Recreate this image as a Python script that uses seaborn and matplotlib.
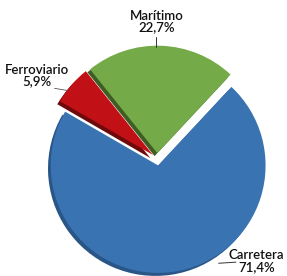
import matplotlib
matplotlib.use("Agg")
import matplotlib.pyplot as plt
import seaborn as sns

categories = ["Carretera", "Ferroviario", "Marítimo"]
values = [71.4, 5.9, 22.7]
pct_labels = ["71,4%", "5,9%", "22,7%"]

sns.set_style("white")
plt.rcParams['font.family'] = ['Lato', 'DejaVu Sans']

colors = ["#3A73B2", "#C21116", "#74AB48"]
dark = ["#2A5587", "#6E0A0C", "#3E5E24"]
explode = [0.065, 0.05, 0.05]

fig = plt.figure(figsize=(2.87, 2.76), dpi=100)
ax = fig.add_axes([0, 0, 1, 1])

# depth layer
ax.pie(values, colors=dark, startangle=47, counterclock=False,
       explode=explode, radius=0.995, center=(-0.025, -0.028),
       wedgeprops=dict(linewidth=0))
ax.pie(values, colors=colors, startangle=47, counterclock=False,
       explode=explode, radius=0.995, center=(0, 0),
       wedgeprops=dict(linewidth=0))
ax.set_xlim(-1.455, 1.203)
ax.set_ylim(-1.088, 1.468)
ax.set_aspect("equal")
ax.axis("off")

txt = dict(fontsize=9.5, fontweight="semibold", color="#111111",
           ha="center", va="center", linespacing=0.92)
# Marítimo
ax.text(0.0, 1.27, categories[2] + "\n" + pct_labels[2], **txt)
ax.plot([-0.01, -0.01], [1.13, 1.03], color="#333333", lw=0.7)
# Ferroviario
ax.text(-1.11, 0.77, categories[1] + "\n" + pct_labels[1], **txt)
ax.plot([-0.95, -0.83], [0.65, 0.63], color="#555555", lw=0.6)
# Carretera
ax.text(0.92, -0.95, categories[0] + "\n" + pct_labels[0], **txt)
ax.plot([0.57, 0.73], [-0.97, -0.96], color="#333333", lw=0.7)

fig.savefig("out.png", dpi=100)
